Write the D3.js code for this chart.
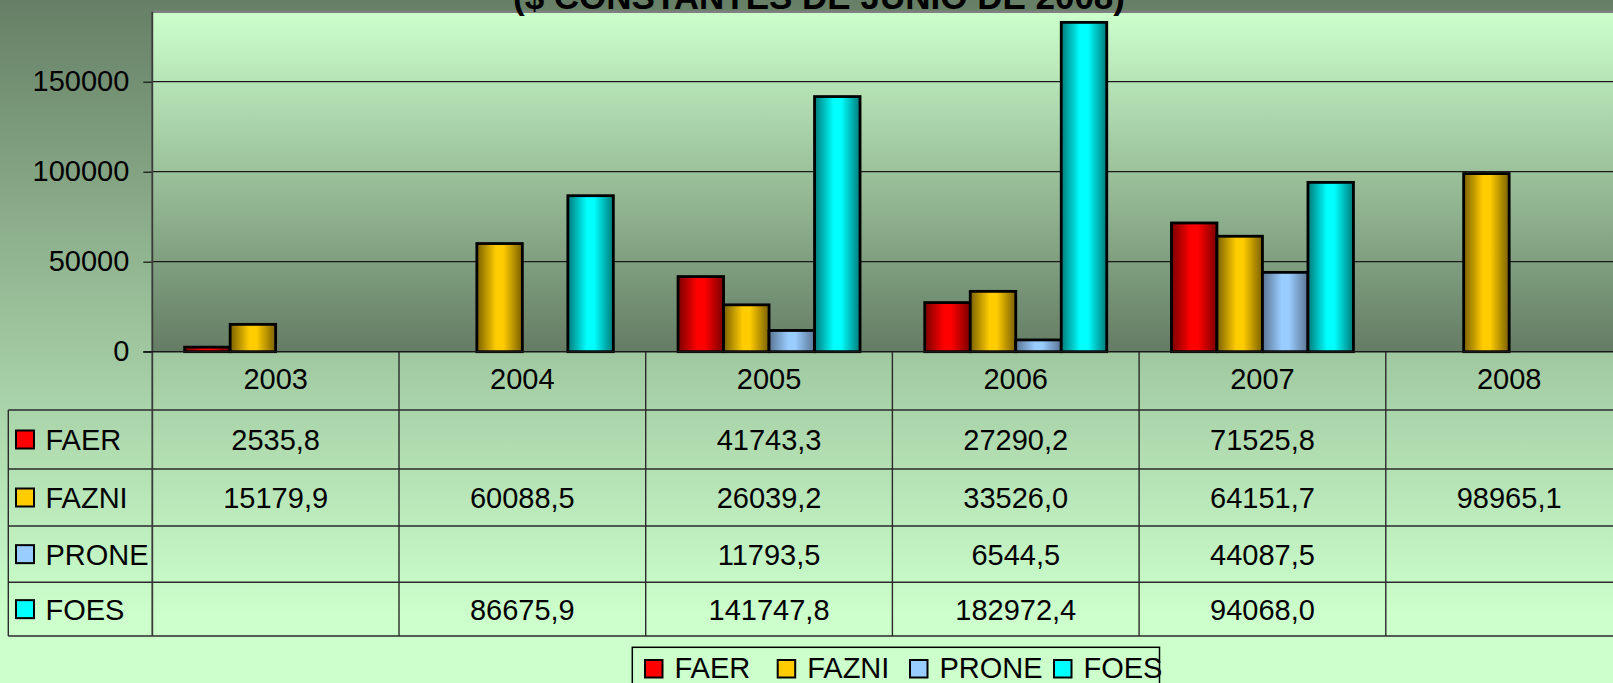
<!DOCTYPE html>
<html>
<head>
<meta charset="utf-8">
<script src="https://cdn.jsdelivr.net/npm/d3@7"></script>
<style>
  html, body { margin: 0; padding: 0; overflow: hidden; }
  svg { display: block; }
  text { font-family: "Liberation Sans", Arial, sans-serif; fill: #000; }
</style>
</head>
<body>
<svg id="chart" width="1613" height="683"></svg>
<script>
// ---- data ----
const years = ["2003", "2004", "2005", "2006", "2007", "2008"];
const seriesNames = ["FAER", "FAZNI", "PRONE", "FOES"];
const faer  = [2535.8, null, 41743.3, 27290.2, 71525.8, null];
const fazni = [15179.9, 60088.5, 26039.2, 33526.0, 64151.7, 98965.1];
const prone = [null, null, 11793.5, 6544.5, 44087.5, null];
const foes  = [null, 86675.9, 141747.8, 182972.4, 94068.0, null];
const yTicks = [0, 50000, 100000, 150000];
const titleText = "($ CONSTANTES DE JUNIO DE 2008)";

const seriesValues = [faer, fazni, prone, foes];
const seriesColors = {
  FAER:  { bright: "#ff0000", dark: "#7a0000" },
  FAZNI: { bright: "#ffcc00", dark: "#7a6000" },
  PRONE: { bright: "#99ccff", dark: "#5a7592" },
  FOES:  { bright: "#00ffff", dark: "#007a7a" }
};

const W = 1613, H = 683;
const svg = d3.select("#chart");
const defs = svg.append("defs");

// background gradients
const bg = defs.append("linearGradient").attr("id", "bgGrad")
  .attr("x1", 0).attr("y1", 0).attr("x2", 0).attr("y2", 1);
bg.append("stop").attr("offset", "0%").attr("stop-color", "#667f66");
bg.append("stop").attr("offset", "90%").attr("stop-color", "#ccffcc");
bg.append("stop").attr("offset", "100%").attr("stop-color", "#ccffcc");

const pg = defs.append("linearGradient").attr("id", "plotGrad")
  .attr("x1", 0).attr("y1", 0).attr("x2", 0).attr("y2", 1);
pg.append("stop").attr("offset", "0%").attr("stop-color", "#ccffcc");
pg.append("stop").attr("offset", "100%").attr("stop-color", "#647c64");

seriesNames.forEach(name => {
  const g = defs.append("linearGradient").attr("id", "grad" + name)
    .attr("x1", 0).attr("y1", 0).attr("x2", 1).attr("y2", 0);
  g.append("stop").attr("offset", "0%").attr("stop-color", seriesColors[name].dark);
  g.append("stop").attr("offset", "42%").attr("stop-color", seriesColors[name].bright);
  g.append("stop").attr("offset", "58%").attr("stop-color", seriesColors[name].bright);
  g.append("stop").attr("offset", "100%").attr("stop-color", seriesColors[name].dark);
});

svg.append("rect").attr("width", W).attr("height", H).attr("fill", "url(#bgGrad)");

// ---- scales ----
const plotLeft = 152.3, catW = 246.7;
const plotRight = plotLeft + catW * years.length;
const y0 = 351.7, yTop = 11.7;
const x0 = d3.scaleBand().domain(years).range([plotLeft, plotRight]).padding(0);
const x1 = d3.scaleBand().domain(seriesNames).range([0, x0.bandwidth()])
  .paddingInner(0).paddingOuter(0.711);
const y = d3.scaleLinear().domain([0, 188900]).range([y0, yTop]);

// plot area
svg.append("rect").attr("x", plotLeft).attr("y", yTop)
  .attr("width", plotRight - plotLeft).attr("height", y0 - yTop)
  .attr("fill", "url(#plotGrad)");
svg.append("line").attr("x1", plotLeft).attr("x2", plotRight)
  .attr("y1", yTop).attr("y2", yTop).attr("stroke", "#7f7f7f").attr("stroke-width", 2.5);

// gridlines + y axis
const yAxis = d3.axisLeft(y).tickValues(yTicks).tickSize(9).tickPadding(14)
  .tickFormat(d => String(d));
const yAxisG = svg.append("g").attr("transform", `translate(${plotLeft},0)`).call(yAxis);
yAxisG.select(".domain").remove();
yAxisG.selectAll(".tick line").attr("stroke", "#1a1a1a").attr("stroke-width", 1.3);
yAxisG.selectAll(".tick text").style("font-size", "29px")
  .style("font-family", "'Liberation Sans', Arial, sans-serif").attr("fill", "#000");

svg.append("g").selectAll("line").data(yTicks.filter(d => d > 0)).join("line")
  .attr("x1", plotLeft).attr("x2", plotRight)
  .attr("y1", d => y(d)).attr("y2", d => y(d))
  .attr("stroke", "#1a1a1a").attr("stroke-width", 1.3);

// ---- bars ----
const barData = [];
seriesNames.forEach((name, si) => {
  years.forEach((yr, i) => {
    const v = seriesValues[si][i];
    if (v !== null) barData.push({ name, yr, v });
  });
});
svg.append("g").selectAll("rect").data(barData).join("rect")
  .attr("x", d => x0(d.yr) + x1(d.name))
  .attr("y", d => y(d.v))
  .attr("width", x1.bandwidth())
  .attr("height", d => y(0) - y(d.v))
  .attr("fill", d => `url(#grad${d.name})`)
  .attr("stroke", "#000").attr("stroke-width", 2.8);

// ---- data table ----
const tableLeft = 8.3;
const rowEdges = [410, 469, 526, 582.3, 636];   // layout: row boundaries
const headerBottom = rowEdges[0], tableBottom = rowEdges[rowEdges.length - 1];
const lineColor = "#2a2a2a";
const tbl = svg.append("g");

// horizontal lines
tbl.selectAll("line.h").data(rowEdges)
  .join("line").attr("class", "h")
  .attr("x1", tableLeft).attr("x2", plotRight)
  .attr("y1", d => d).attr("y2", d => d)
  .attr("stroke", lineColor).attr("stroke-width", 1.4);
// left border of table
tbl.append("line").attr("x1", tableLeft).attr("x2", tableLeft)
  .attr("y1", headerBottom).attr("y2", tableBottom)
  .attr("stroke", lineColor).attr("stroke-width", 1.4);
// vertical category lines
tbl.selectAll("line.v").data(years.slice(1)).join("line").attr("class", "v")
  .attr("x1", d => x0(d)).attr("x2", d => x0(d))
  .attr("y1", y0).attr("y2", tableBottom)
  .attr("stroke", lineColor).attr("stroke-width", 1.4);
// y-axis line extending through table
svg.append("line").attr("x1", plotLeft).attr("x2", plotLeft)
  .attr("y1", yTop).attr("y2", tableBottom)
  .attr("stroke", "#3a3a3a").attr("stroke-width", 1.8);
// zero axis
svg.append("line").attr("x1", plotLeft - 9).attr("x2", plotRight)
  .attr("y1", y0).attr("y2", y0).attr("stroke", "#1a1a1a").attr("stroke-width", 1.6);

// header (years)
tbl.selectAll("text.yr").data(years).join("text").attr("class", "yr")
  .attr("x", d => x0(d) + x0.bandwidth() / 2)
  .attr("y", 388.5)
  .attr("text-anchor", "middle")
  .style("font-size", "29px")
  .text(d => d);

// row labels with keys
seriesNames.forEach((name, si) => {
  const cy = (rowEdges[si] + rowEdges[si + 1]) / 2;
  tbl.append("rect").attr("x", 16).attr("y", cy - 9).attr("width", 18).attr("height", 18)
    .attr("fill", seriesColors[name].bright).attr("stroke", "#000").attr("stroke-width", 2);
  tbl.append("text").attr("x", 45.5).attr("y", cy + 10.5)
    .style("font-size", "29px").text(name);
  years.forEach((yr, i) => {
    const v = seriesValues[si][i];
    if (v === null) return;
    tbl.append("text")
      .attr("x", x0(yr) + x0.bandwidth() / 2)
      .attr("y", cy + 10.5)
      .attr("text-anchor", "middle")
      .style("font-size", "29px")
      .text(v.toFixed(1).replace(".", ","));
  });
});

// ---- legend ----
const legendX = [645, 777.7, 910, 1054];
const lg = svg.append("g");
lg.append("rect").attr("x", 632.3).attr("y", 647.3).attr("width", 527.2).attr("height", 60)
  .attr("fill", "none").attr("stroke", "#000").attr("stroke-width", 1.5);
seriesNames.forEach((name, i) => {
  lg.append("rect").attr("x", legendX[i]).attr("y", 660).attr("width", 17.5).attr("height", 17.5)
    .attr("fill", seriesColors[name].bright).attr("stroke", "#000").attr("stroke-width", 2);
  lg.append("text").attr("x", legendX[i] + 29.5).attr("y", 678)
    .style("font-size", "29px").text(name);
});

// ---- title (cut off at top, as in the reference) ----
svg.append("text").attr("x", 819).attr("y", 9)
  .attr("text-anchor", "middle")
  .style("font-size", "35px").style("font-weight", "bold")
  .text(titleText);
</script>
</body>
</html>
